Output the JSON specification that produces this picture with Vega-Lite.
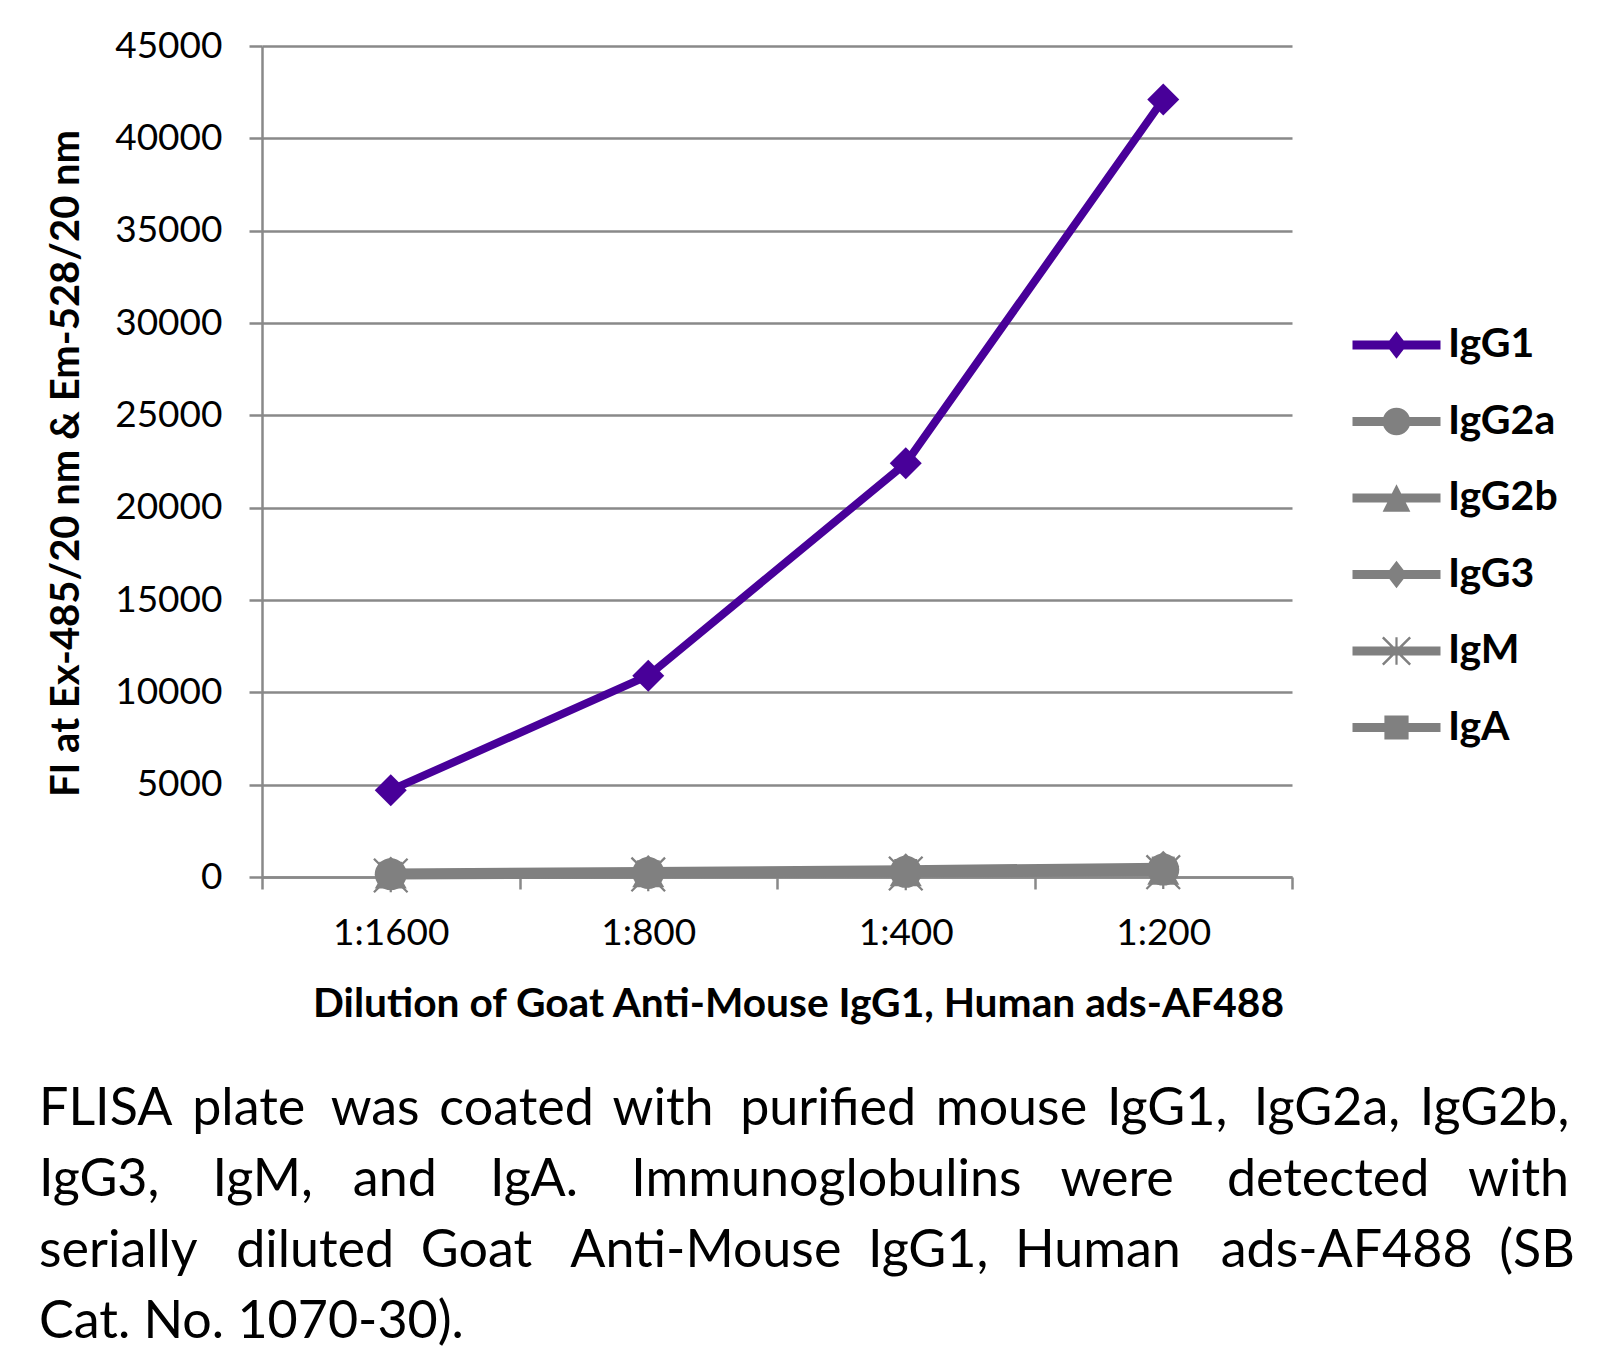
{
  "$schema": "https://vega.github.io/schema/vega-lite/v6.json",
  "width": 1030,
  "height": 831,
  "autosize": {"type": "none"},
  "padding": {"left": 262, "top": 46, "right": 309, "bottom": 476},
  "background": "white",
  "config": {"view": {"stroke": null}, "font": "Lato"},
  "title": {
    "text": [
      "FLISA\u2009 plate\u00a0 was\u2009 coated\u2009 with\u00a0 purified\u2009 mouse\u2009 IgG1,\u00a0 IgG2a,\u2009 IgG2b,",
      "IgG3,\u00a0\u00a0\u00a0 IgM,\u00a0\u00a0 and\u00a0\u00a0\u00a0 IgA.\u00a0\u00a0\u00a0 Immunoglobulins\u00a0\u00a0 were\u00a0\u00a0\u00a0 detected\u00a0\u00a0 with",
      "serially\u00a0\u00a0 diluted\u00a0 Goat\u00a0\u00a0 Anti-Mouse\u00a0 IgG1,\u00a0 Human\u00a0\u00a0 ads-AF488\u00a0 (SB",
      "Cat. No. 1070-30)."
    ],
    "orient": "bottom",
    "anchor": "start",
    "frame": "group",
    "font": "Lato",
    "fontSize": 52,
    "fontWeight": "normal",
    "color": "black",
    "lineHeight": 71,
    "dx": -223,
    "offset": 60
  },
  "data": {
    "values": [
      {"dilution": "1:1600", "series": "IgG1", "value": 4700},
      {"dilution": "1:800", "series": "IgG1", "value": 10900},
      {"dilution": "1:400", "series": "IgG1", "value": 22400},
      {"dilution": "1:200", "series": "IgG1", "value": 42100},
      {"dilution": "1:1600", "series": "IgG2a", "value": 150},
      {"dilution": "1:800", "series": "IgG2a", "value": 220},
      {"dilution": "1:400", "series": "IgG2a", "value": 280},
      {"dilution": "1:200", "series": "IgG2a", "value": 400},
      {"dilution": "1:1600", "series": "IgG2b", "value": 120},
      {"dilution": "1:800", "series": "IgG2b", "value": 180},
      {"dilution": "1:400", "series": "IgG2b", "value": 230},
      {"dilution": "1:200", "series": "IgG2b", "value": 320},
      {"dilution": "1:1600", "series": "IgG3", "value": 250},
      {"dilution": "1:800", "series": "IgG3", "value": 330},
      {"dilution": "1:400", "series": "IgG3", "value": 420},
      {"dilution": "1:200", "series": "IgG3", "value": 560},
      {"dilution": "1:1600", "series": "IgM", "value": 80},
      {"dilution": "1:800", "series": "IgM", "value": 140},
      {"dilution": "1:400", "series": "IgM", "value": 190},
      {"dilution": "1:200", "series": "IgM", "value": 260},
      {"dilution": "1:1600", "series": "IgA", "value": 200},
      {"dilution": "1:800", "series": "IgA", "value": 280},
      {"dilution": "1:400", "series": "IgA", "value": 350},
      {"dilution": "1:200", "series": "IgA", "value": 480}
    ]
  },
  "encoding": {
    "x": {
      "field": "dilution",
      "type": "nominal",
      "sort": ["1:1600", "1:800", "1:400", "1:200"],
      "scale": {"type": "band", "paddingInner": 0, "paddingOuter": 0},
      "axis": {
        "title": "Dilution of Goat Anti-Mouse IgG1, Human ads-AF488",
        "titleFont": "Lato",
        "titleFontSize": 40.7,
        "titleFontWeight": "bold",
        "titleColor": "black",
        "titleX": 536,
        "titleY": 139,
        "titleAlign": "center",
        "titleBaseline": "alphabetic",
        "labelAngle": 0,
        "labelFont": "Lato",
        "labelFontSize": 37,
        "labelColor": "black",
        "labelBaseline": "alphabetic",
        "labelPadding": 55,
        "tickBand": "extent",
        "tickSize": 12,
        "tickColor": "#898989",
        "tickWidth": 2.5,
        "domainColor": "#898989",
        "domainWidth": 2.5,
        "grid": false
      }
    },
    "y": {
      "field": "value",
      "type": "quantitative",
      "scale": {"domain": [0, 45000], "nice": false},
      "axis": {
        "title": "FI at Ex-485/20 nm & Em-528/20 nm",
        "titleFont": "Lato",
        "titleFontSize": 40,
        "titleFontWeight": "bold",
        "titleColor": "black",
        "titleX": -184,
        "titleY": 417,
        "titleAlign": "center",
        "titleBaseline": "alphabetic",
        "titleAngle": 270,
        "values": [0, 5000, 10000, 15000, 20000, 25000, 30000, 35000, 40000, 45000],
        "format": "d",
        "labelFont": "Lato",
        "labelFontSize": 37,
        "labelColor": "black",
        "labelPadding": 27,
        "tickSize": 13,
        "tickColor": "#898989",
        "tickWidth": 2.5,
        "domainColor": "#898989",
        "domainWidth": 2.5,
        "grid": true,
        "gridColor": "#898989",
        "gridWidth": 2.5
      }
    }
  },
  "layer": [
    {
      "mark": {"type": "line", "strokeWidth": 8, "strokeJoin": "round"},
      "encoding": {
        "detail": {"field": "series", "type": "nominal"},
        "color": {
          "condition": {"test": "datum.series === 'IgG1'", "value": "#480099"},
          "value": "#808080"
        }
      }
    },
    {
      "mark": {"type": "point", "filled": true, "opacity": 1, "size": 1024, "strokeWidth": 0},
      "encoding": {
        "color": {
          "condition": {"test": "datum.series === 'IgG1'", "value": "#480099"},
          "value": "#808080"
        },
        "shape": {
          "condition": [
            {"test": "datum.series === 'IgG2a'", "value": "circle"},
            {"test": "datum.series === 'IgG2b'", "value": "M0,-0.9L-1,0.85L1,0.85Z"},
            {"test": "datum.series === 'IgM'", "value": "M-0.07,-1.05V1.05H0.07V-1.05Z M-1.1,-1L1,1.1L1.1,1L-1,-1.1Z M1,-1.1L-1.1,1L-1,1.1L1.1,-1Z"},
            {"test": "datum.series === 'IgA'", "value": "M-0.72,-0.72V0.72H0.72V-0.72Z"}
          ],
          "value": "diamond"
        }
      }
    },
    {
      "transform": [{"filter": "false"}],
      "mark": {"type": "point", "filled": true, "opacity": 1, "size": 1936, "strokeWidth": 0},
      "encoding": {
        "color": {
          "field": "series",
          "type": "nominal",
          "scale": {
            "domain": ["IgG1", "IgG2a", "IgG2b", "IgG3", "IgM", "IgA"],
            "range": ["#480099", "#808080", "#808080", "#808080", "#808080", "#808080"]
          },
          "legend": {
            "title": null,
            "orient": "none",
            "legendX": 1112.5,
            "legendY": 277,
            "padding": 0,
            "symbolSize": 1936,
            "symbolStrokeWidth": 0,
            "symbolOpacity": 1,
            "labelFont": "Lato",
            "labelFontSize": 41,
            "labelFontWeight": "bold",
            "labelColor": "black",
            "labelOffset": 29.5,
            "labelLimit": 300,
            "rowPadding": 34.5
          }
        },
        "shape": {
          "field": "series",
          "type": "nominal",
          "scale": {
            "domain": ["IgG1", "IgG2a", "IgG2b", "IgG3", "IgM", "IgA"],
            "range": [
              "M-2,-0.2V0.2H2V-0.2Z M0,-0.62L-0.48,0L0,0.62L0.48,0Z",
              "M-2,-0.2V0.2H2V-0.2Z M-0.63,0A0.63,0.63 0 1,0 0.63,0A0.63,0.63 0 1,0 -0.63,0Z",
              "M-2,-0.2V0.2H2V-0.2Z M0,-0.62L-0.63,0.62L0.63,0.62Z",
              "M-2,-0.2V0.2H2V-0.2Z M0,-0.62L-0.48,0L0,0.62L0.48,0Z",
              "M-2,-0.2V0.2H2V-0.2Z M-0.05,-0.62V0.62H0.05V-0.62Z M-0.66,-0.58L0.58,0.66L0.66,0.58L-0.58,-0.66Z M0.58,-0.66L-0.66,0.58L-0.58,0.66L0.66,-0.58Z",
              "M-2,-0.2V0.2H2V-0.2Z M-0.55,-0.55V0.55H0.55V-0.55Z"
            ]
          },
          "legend": {
            "title": null,
            "orient": "none",
            "legendX": 1112.5,
            "legendY": 277,
            "padding": 0,
            "symbolSize": 1936,
            "symbolStrokeWidth": 0,
            "symbolOpacity": 1,
            "labelFont": "Lato",
            "labelFontSize": 41,
            "labelFontWeight": "bold",
            "labelColor": "black",
            "labelOffset": 29.5,
            "labelLimit": 300,
            "rowPadding": 34.5
          }
        }
      }
    }
  ]
}
